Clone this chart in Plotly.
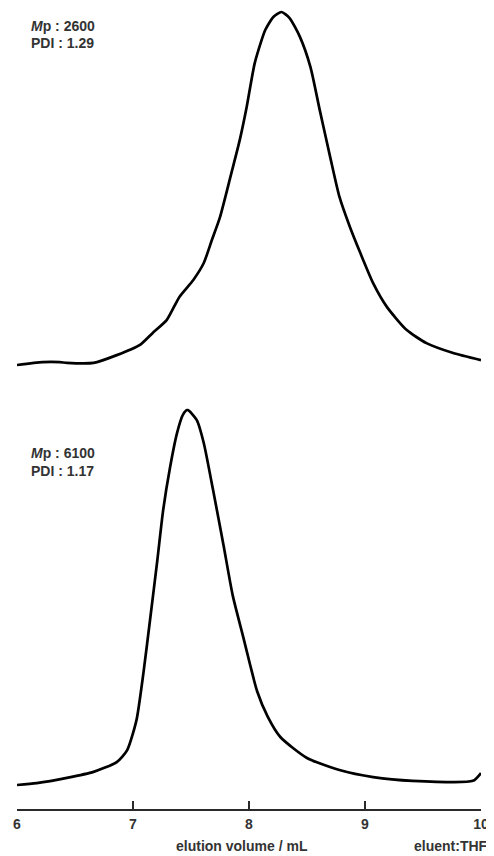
import plotly.graph_objects as go

# Top trace (Mp 2600, PDI 1.29): elution volume (mL) and normalized RI intensity
top_vol = [6.00, 6.22, 6.37, 6.43, 6.66, 6.86, 7.06, 7.17, 7.29, 7.40, 7.52, 7.61, 7.68, 7.75,
           7.84, 7.92, 7.98, 8.05, 8.14, 8.21, 8.28, 8.35, 8.44, 8.53, 8.61, 8.70, 8.78,
           8.87, 8.96, 9.07, 9.19, 9.36, 9.53, 9.76, 10.00]
top_int = [0.000, 0.008, 0.008, 0.006, 0.006, 0.028, 0.057, 0.091, 0.127, 0.193, 0.241, 0.289,
           0.354, 0.419, 0.533, 0.637, 0.731, 0.856, 0.949, 0.986, 1.000, 0.983, 0.929, 0.844,
           0.722, 0.589, 0.476, 0.391, 0.317, 0.232, 0.164, 0.099, 0.062, 0.034, 0.014]

# Bottom trace (Mp 6100, PDI 1.17)
bot_vol = [6.00, 6.17, 6.43, 6.66, 6.86, 6.95, 7.03, 7.09, 7.15, 7.21, 7.26, 7.32, 7.38, 7.43,
           7.47, 7.55, 7.61, 7.69, 7.78, 7.86, 7.95, 8.01, 8.07, 8.16, 8.27, 8.50, 8.78,
           9.07, 9.41, 9.93, 10.00]
bot_int = [0.000, 0.005, 0.019, 0.035, 0.061, 0.093, 0.173, 0.299, 0.448, 0.600, 0.733, 0.848,
           0.939, 0.987, 1.000, 0.973, 0.912, 0.787, 0.640, 0.505, 0.395, 0.320, 0.250, 0.183,
           0.128, 0.072, 0.040, 0.021, 0.011, 0.011, 0.032]

tick_vals = [6, 7, 8, 9, 10]
tick_text = ["6", "7", "8", "9", "10"]

labels_top = ["<i>M</i>p : 2600", "PDI : 1.29"]
labels_bot = ["<i>M</i>p : 6100", "PDI : 1.17"]

FONT = "Liberation Sans, Arial, sans-serif"
TXT = "#333333"


def bold(s):
    return "<b>" + s + "</b>"


fig = go.Figure()
fig.add_trace(go.Scatter(x=bot_vol, y=bot_int, mode="lines", xaxis="x", yaxis="y",
                         line=dict(color="black", width=2.7, shape="spline", smoothing=0.6),
                         showlegend=False, hoverinfo="skip"))
fig.add_trace(go.Scatter(x=top_vol, y=top_int, mode="lines", xaxis="x2", yaxis="y2",
                         line=dict(color="black", width=2.7, shape="spline", smoothing=0.6),
                         showlegend=False, hoverinfo="skip"))

ann_font = dict(family=FONT, size=14, color=TXT)
annotations = []
for txt, yy in zip(labels_top, [0.9775, 0.9563]):
    annotations.append(dict(text=bold(txt), x=0.0259, y=yy, xref="paper", yref="paper",
                            xanchor="left", yanchor="middle", showarrow=False, font=ann_font))
for txt, yy in zip(labels_bot, [0.4444, 0.4220]):
    annotations.append(dict(text=bold(txt), x=0.0259, y=yy, xref="paper", yref="paper",
                            xanchor="left", yanchor="middle", showarrow=False, font=ann_font))
annotations.append(dict(text=bold("elution volume / mL"), x=0.485, y=-0.046, xref="paper",
                        yref="paper", xanchor="center", yanchor="middle", showarrow=False,
                        font=ann_font))
annotations.append(dict(text=bold("eluent:THF"), x=1.0194, y=-0.046, xref="paper",
                        yref="paper", xanchor="right", yanchor="middle", showarrow=False,
                        font=ann_font))

fig.update_layout(
    width=486, height=848,
    margin=dict(l=9, r=13, t=0, b=47),
    paper_bgcolor="white", plot_bgcolor="white",
    font=dict(family=FONT, color=TXT, size=14),
    xaxis=dict(range=[6, 10], domain=[0, 1], anchor="y", showgrid=False, zeroline=False,
               showline=True, linecolor="#2a2a2a", linewidth=1.6,
               ticks="inside", ticklen=8, tickwidth=1.6, tickcolor="#2a2a2a",
               tickvals=tick_vals, ticktext=[bold(t) for t in tick_text],
               tickfont=dict(family=FONT, size=14, color=TXT), ticklabelstandoff=1),
    yaxis=dict(domain=[0, 0.52], range=[-0.064, 1.0466], visible=False, fixedrange=True),
    xaxis2=dict(range=[6, 10], domain=[0, 1], anchor="y2", visible=False, matches="x"),
    yaxis2=dict(domain=[0.5, 1], range=[-0.1232, 1.0114], visible=False, fixedrange=True),
    annotations=annotations,
)

fig.write_html("out.html")
